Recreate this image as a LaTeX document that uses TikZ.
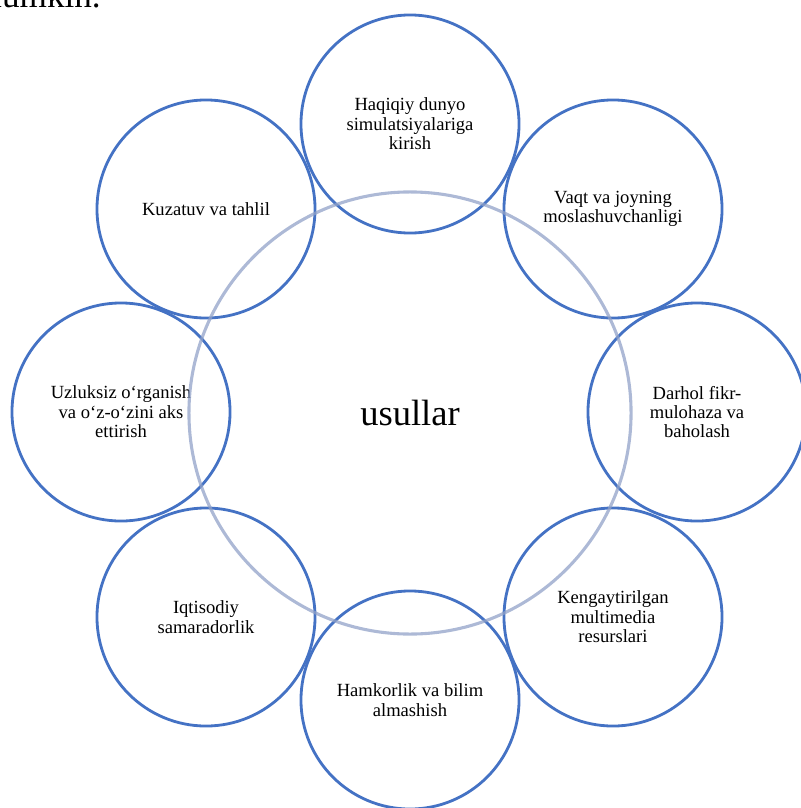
\documentclass[tikz,border=0pt]{standalone}
\usepackage{fontspec}
\setmainfont{Liberation Serif}
\usepackage{tikz}
\usetikzlibrary{positioning}
\definecolor{ringblue}{RGB}{68,114,196}
\definecolor{hubgray}{RGB}{145,162,200}

\begin{document}
\begin{tikzpicture}[x=0.025cm,y=-0.025cm,
    petal/.style={circle,draw=ringblue,line width=2pt,inner sep=0pt,
                  minimum size=5.45cm,align=center,
                  font=\fontsize{13.2}{13.8}\selectfont},
    hub/.style={circle,draw=hubgray,draw opacity=0.75,line width=2.2pt,
                inner sep=0pt,minimum size=11.05cm,
                font=\fontsize{26}{30}\selectfont}]
  \useasboundingbox (0,0) rectangle (801,808);
  \clip (0,0) rectangle (801,808);
  % stray line of the page text above
  \node[anchor=base east,inner sep=0pt,font=\fontsize{25}{30}\selectfont] (prev) at (101,8) {mumkin.};

  \node[petal] (sim)   at (410,124) {Haqiqiy dunyo\\simulatsiyalariga\\kirish};
  \node[petal] (vaqt)  at (613,209) {Vaqt va joyning\\moslashuvchanligi};
  \node[petal] (fikr)  at (697,412) {Darhol fikr-\\mulohaza va\\baholash};
  \node[petal] (media) at (613,617) {Kengaytirilgan\\multimedia\\resurslari};
  \node[petal] (hamk)  at (410,700) {Hamkorlik va bilim\\almashish};
  \node[petal] (iqt)   at (206,617) {Iqtisodiy\\samaradorlik};
  \node[petal] (uzl)   at (121,412) {Uzluksiz o‘rganish\\va o‘z-o‘zini aks\\ettirish};
  \node[petal] (kuz)   at (206,209) {Kuzatuv va tahlil};

  \node[hub] (usul) at (410,413) {usullar};
\end{tikzpicture}
\end{document}
